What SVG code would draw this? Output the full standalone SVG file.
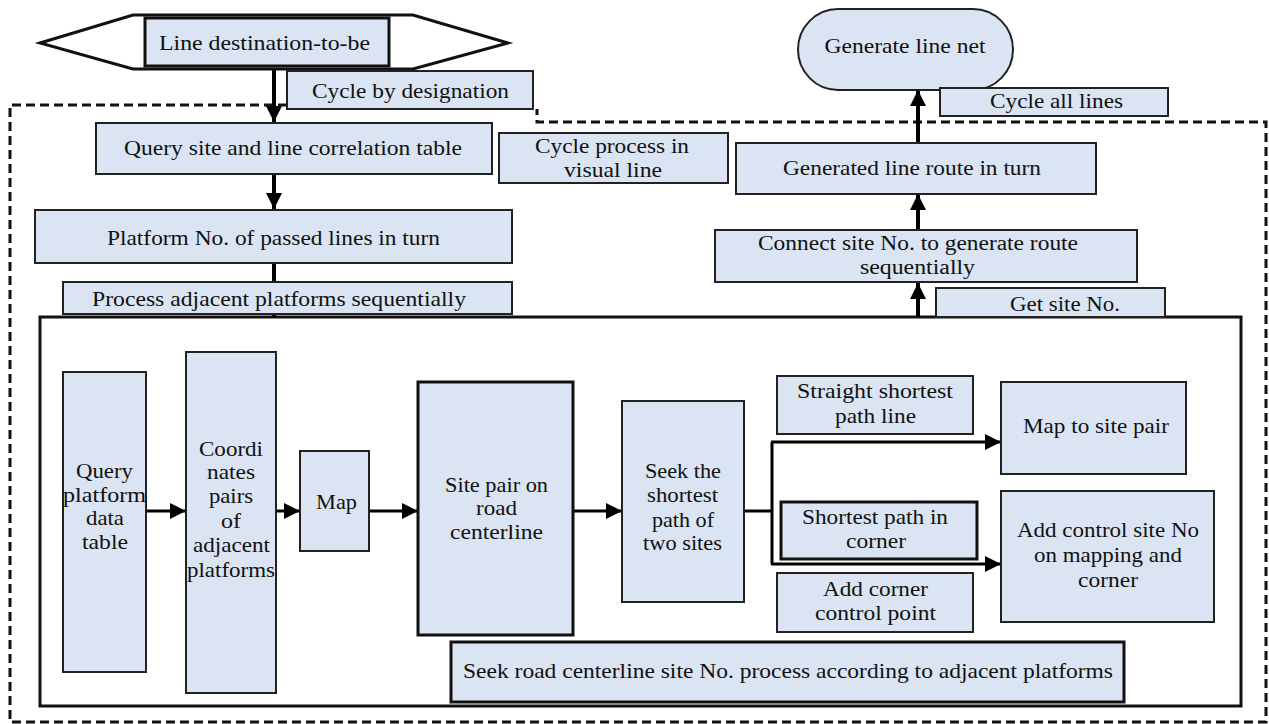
<svg xmlns="http://www.w3.org/2000/svg" width="1269" height="724" viewBox="0 0 1269 724">
<style>
.b{fill:#dae4f2;stroke:#222;stroke-width:2}
.bt{fill:#dae4f2;stroke:#111;stroke-width:3}
text{font-family:"Liberation Serif","Times New Roman",serif;font-size:22px;fill:#111;text-anchor:middle}
.s{font-size:20px}
.c{fill:none;stroke:#000;stroke-width:4}
.ch{fill:none;stroke:#000;stroke-width:3}
</style>
<defs>
<marker id="ah" markerUnits="userSpaceOnUse" markerWidth="18" markerHeight="18" refX="16" refY="8" orient="auto">
<path d="M0,0 L16,8 L0,16 z" fill="#000"/>
</marker>
</defs>
<rect width="1269" height="724" fill="#fff"/>
<g id="frames">
<path d="M287,105 H10 V722 H1266 V122 H537 V109" fill="none" stroke="#111" stroke-width="3" stroke-dasharray="9 5"/>
<rect x="40" y="317" width="1201" height="389" fill="none" stroke="#111" stroke-width="3"/>
</g>
<g id="connectors">
<path class="c" d="M274,66 V122" marker-end="url(#ah)"/>
<path class="c" d="M274,174 V209" marker-end="url(#ah)"/>
<path class="c" d="M274,263 V317"/>
<path class="ch" d="M146,511 H186" marker-end="url(#ah)"/>
<path class="ch" d="M276,511 H300" marker-end="url(#ah)"/>
<path class="ch" d="M369,511 H418" marker-end="url(#ah)"/>
<path class="ch" d="M573,511 H622" marker-end="url(#ah)"/>
<path class="ch" d="M744,511 H772"/>
<path class="ch" d="M772,442 V564"/>
<path class="ch" d="M771,442 H1001" marker-end="url(#ah)"/>
<path class="ch" d="M771,564 H1001" marker-end="url(#ah)"/>
<path class="c" d="M918,317 V283" marker-end="url(#ah)"/>
<path class="c" d="M918,230 V194" marker-end="url(#ah)"/>
<path class="c" d="M918,143 V90" marker-end="url(#ah)"/>
</g>
<g id="n-start">
<polygon points="40,43 133,15 413,15 508,43 413,69 133,69" fill="#fff" stroke="#111" stroke-width="3"/>
<rect class="bt" x="145" y="18" width="244" height="48"/>
<text x="264.5" y="50" textLength="211" lengthAdjust="spacingAndGlyphs">Line destination-to-be</text>
</g>
<g id="n-cycle-designation">
<rect class="b" x="287" y="71" width="246" height="38"/>
<text x="410.5" y="98" textLength="197" lengthAdjust="spacingAndGlyphs">Cycle by designation</text>
</g>
<g id="n-query-site">
<rect class="b" x="96" y="123" width="396" height="51"/>
<text x="293" y="155" textLength="338" lengthAdjust="spacingAndGlyphs">Query site and line correlation table</text>
</g>
<g id="n-cycle-process">
<rect class="b" x="499" y="133" width="229" height="50"/>
<text x="612" y="153" textLength="154" lengthAdjust="spacingAndGlyphs">Cycle process in</text>
<text x="613" y="177" textLength="98" lengthAdjust="spacingAndGlyphs">visual line</text>
</g>
<g id="n-platform">
<rect class="b" x="35" y="210" width="477" height="53"/>
<text x="273.5" y="245" textLength="333" lengthAdjust="spacingAndGlyphs">Platform No. of passed lines in turn</text>
</g>
<g id="n-process-adjacent">
<rect class="b" x="63" y="282" width="449" height="32"/>
<text x="279" y="306" textLength="374" lengthAdjust="spacingAndGlyphs">Process adjacent platforms sequentially</text>
</g>
<g id="n-generate-net">
<rect class="b" x="798" y="9" width="215" height="81" rx="40" ry="40.5"/>
<text x="905" y="53" textLength="161" lengthAdjust="spacingAndGlyphs">Generate line net</text>
</g>
<g id="n-cycle-all">
<rect class="b" x="940" y="88" width="228" height="28"/>
<text x="1056.5" y="108" textLength="133" lengthAdjust="spacingAndGlyphs">Cycle all lines</text>
</g>
<g id="n-generated-route">
<rect class="b" x="736" y="143" width="360" height="51"/>
<text x="912" y="175" textLength="258" lengthAdjust="spacingAndGlyphs">Generated line route in turn</text>
</g>
<g id="n-connect">
<rect class="b" x="715" y="230" width="422" height="52"/>
<text class="s" x="918" y="250" textLength="320" lengthAdjust="spacingAndGlyphs">Connect site No. to generate route</text>
<text class="s" x="917.5" y="274" textLength="115" lengthAdjust="spacingAndGlyphs">sequentially</text>
</g>
<g id="n-get-site">
<rect class="b" x="936" y="288" width="229" height="29"/>
<text x="1065" y="311" textLength="110" lengthAdjust="spacingAndGlyphs">Get site No.</text>
</g>
<g id="n-query-platform">
<rect class="b" x="63" y="372" width="83" height="300"/>
<text x="104.5" y="478" textLength="57" lengthAdjust="spacingAndGlyphs">Query</text>
<text x="104.5" y="502" textLength="83" lengthAdjust="spacingAndGlyphs">platform</text>
<text x="105" y="525" textLength="38" lengthAdjust="spacingAndGlyphs">data</text>
<text x="105" y="549" textLength="46" lengthAdjust="spacingAndGlyphs">table</text>
</g>
<g id="n-coordinates">
<rect class="b" x="186" y="352" width="90" height="341"/>
<text x="231" y="456" textLength="64" lengthAdjust="spacingAndGlyphs">Coordi</text>
<text x="231" y="479" textLength="48" lengthAdjust="spacingAndGlyphs">nates</text>
<text x="231" y="503" textLength="44" lengthAdjust="spacingAndGlyphs">pairs</text>
<text x="231" y="528" textLength="20" lengthAdjust="spacingAndGlyphs">of</text>
<text x="231.5" y="552" textLength="77" lengthAdjust="spacingAndGlyphs">adjacent</text>
<text x="231" y="577" textLength="88" lengthAdjust="spacingAndGlyphs">platforms</text>
</g>
<g id="n-map">
<rect class="b" x="300" y="451" width="69" height="100"/>
<text x="336.5" y="509" textLength="41" lengthAdjust="spacingAndGlyphs">Map</text>
</g>
<g id="n-site-pair">
<rect class="bt" x="418" y="382" width="155" height="253"/>
<text x="496.5" y="492" textLength="103" lengthAdjust="spacingAndGlyphs">Site pair on</text>
<text x="496.5" y="515" textLength="41" lengthAdjust="spacingAndGlyphs">road</text>
<text x="496.5" y="539" textLength="93" lengthAdjust="spacingAndGlyphs">centerline</text>
</g>
<g id="n-seek-shortest">
<rect class="b" x="622" y="401" width="122" height="201"/>
<text x="683" y="478" textLength="76" lengthAdjust="spacingAndGlyphs">Seek the</text>
<text x="682.5" y="502" textLength="71" lengthAdjust="spacingAndGlyphs">shortest</text>
<text x="683" y="527" textLength="62" lengthAdjust="spacingAndGlyphs">path of</text>
<text x="682.5" y="550" textLength="79" lengthAdjust="spacingAndGlyphs">two sites</text>
</g>
<g id="n-straight">
<rect class="b" x="777" y="376" width="196" height="58"/>
<text x="875" y="398" textLength="156" lengthAdjust="spacingAndGlyphs">Straight shortest</text>
<text x="875.5" y="423" textLength="81" lengthAdjust="spacingAndGlyphs">path line</text>
</g>
<g id="n-map-site-pair">
<rect class="b" x="1001" y="382" width="185" height="92"/>
<text x="1096" y="433" textLength="146" lengthAdjust="spacingAndGlyphs">Map to site pair</text>
</g>
<g id="n-shortest-corner">
<rect class="bt" x="781" y="502" width="196" height="57"/>
<text x="875" y="524" textLength="146" lengthAdjust="spacingAndGlyphs">Shortest path in</text>
<text x="876" y="548" textLength="60" lengthAdjust="spacingAndGlyphs">corner</text>
</g>
<g id="n-add-corner">
<rect class="b" x="777" y="573" width="196" height="59"/>
<text x="875.5" y="596" textLength="105" lengthAdjust="spacingAndGlyphs">Add corner</text>
<text x="875.5" y="620" textLength="121" lengthAdjust="spacingAndGlyphs">control point</text>
</g>
<g id="n-add-control">
<rect class="b" x="1001" y="491" width="213" height="131"/>
<text x="1108" y="537" textLength="182" lengthAdjust="spacingAndGlyphs">Add control site No</text>
<text x="1108" y="562" textLength="148" lengthAdjust="spacingAndGlyphs">on mapping and</text>
<text x="1108" y="587" textLength="60" lengthAdjust="spacingAndGlyphs">corner</text>
</g>
<g id="n-seek-road">
<rect class="bt" x="451" y="642" width="673" height="60"/>
<text x="788" y="678" textLength="650" lengthAdjust="spacingAndGlyphs">Seek road centerline site No. process according to adjacent platforms</text>
</g>
</svg>
